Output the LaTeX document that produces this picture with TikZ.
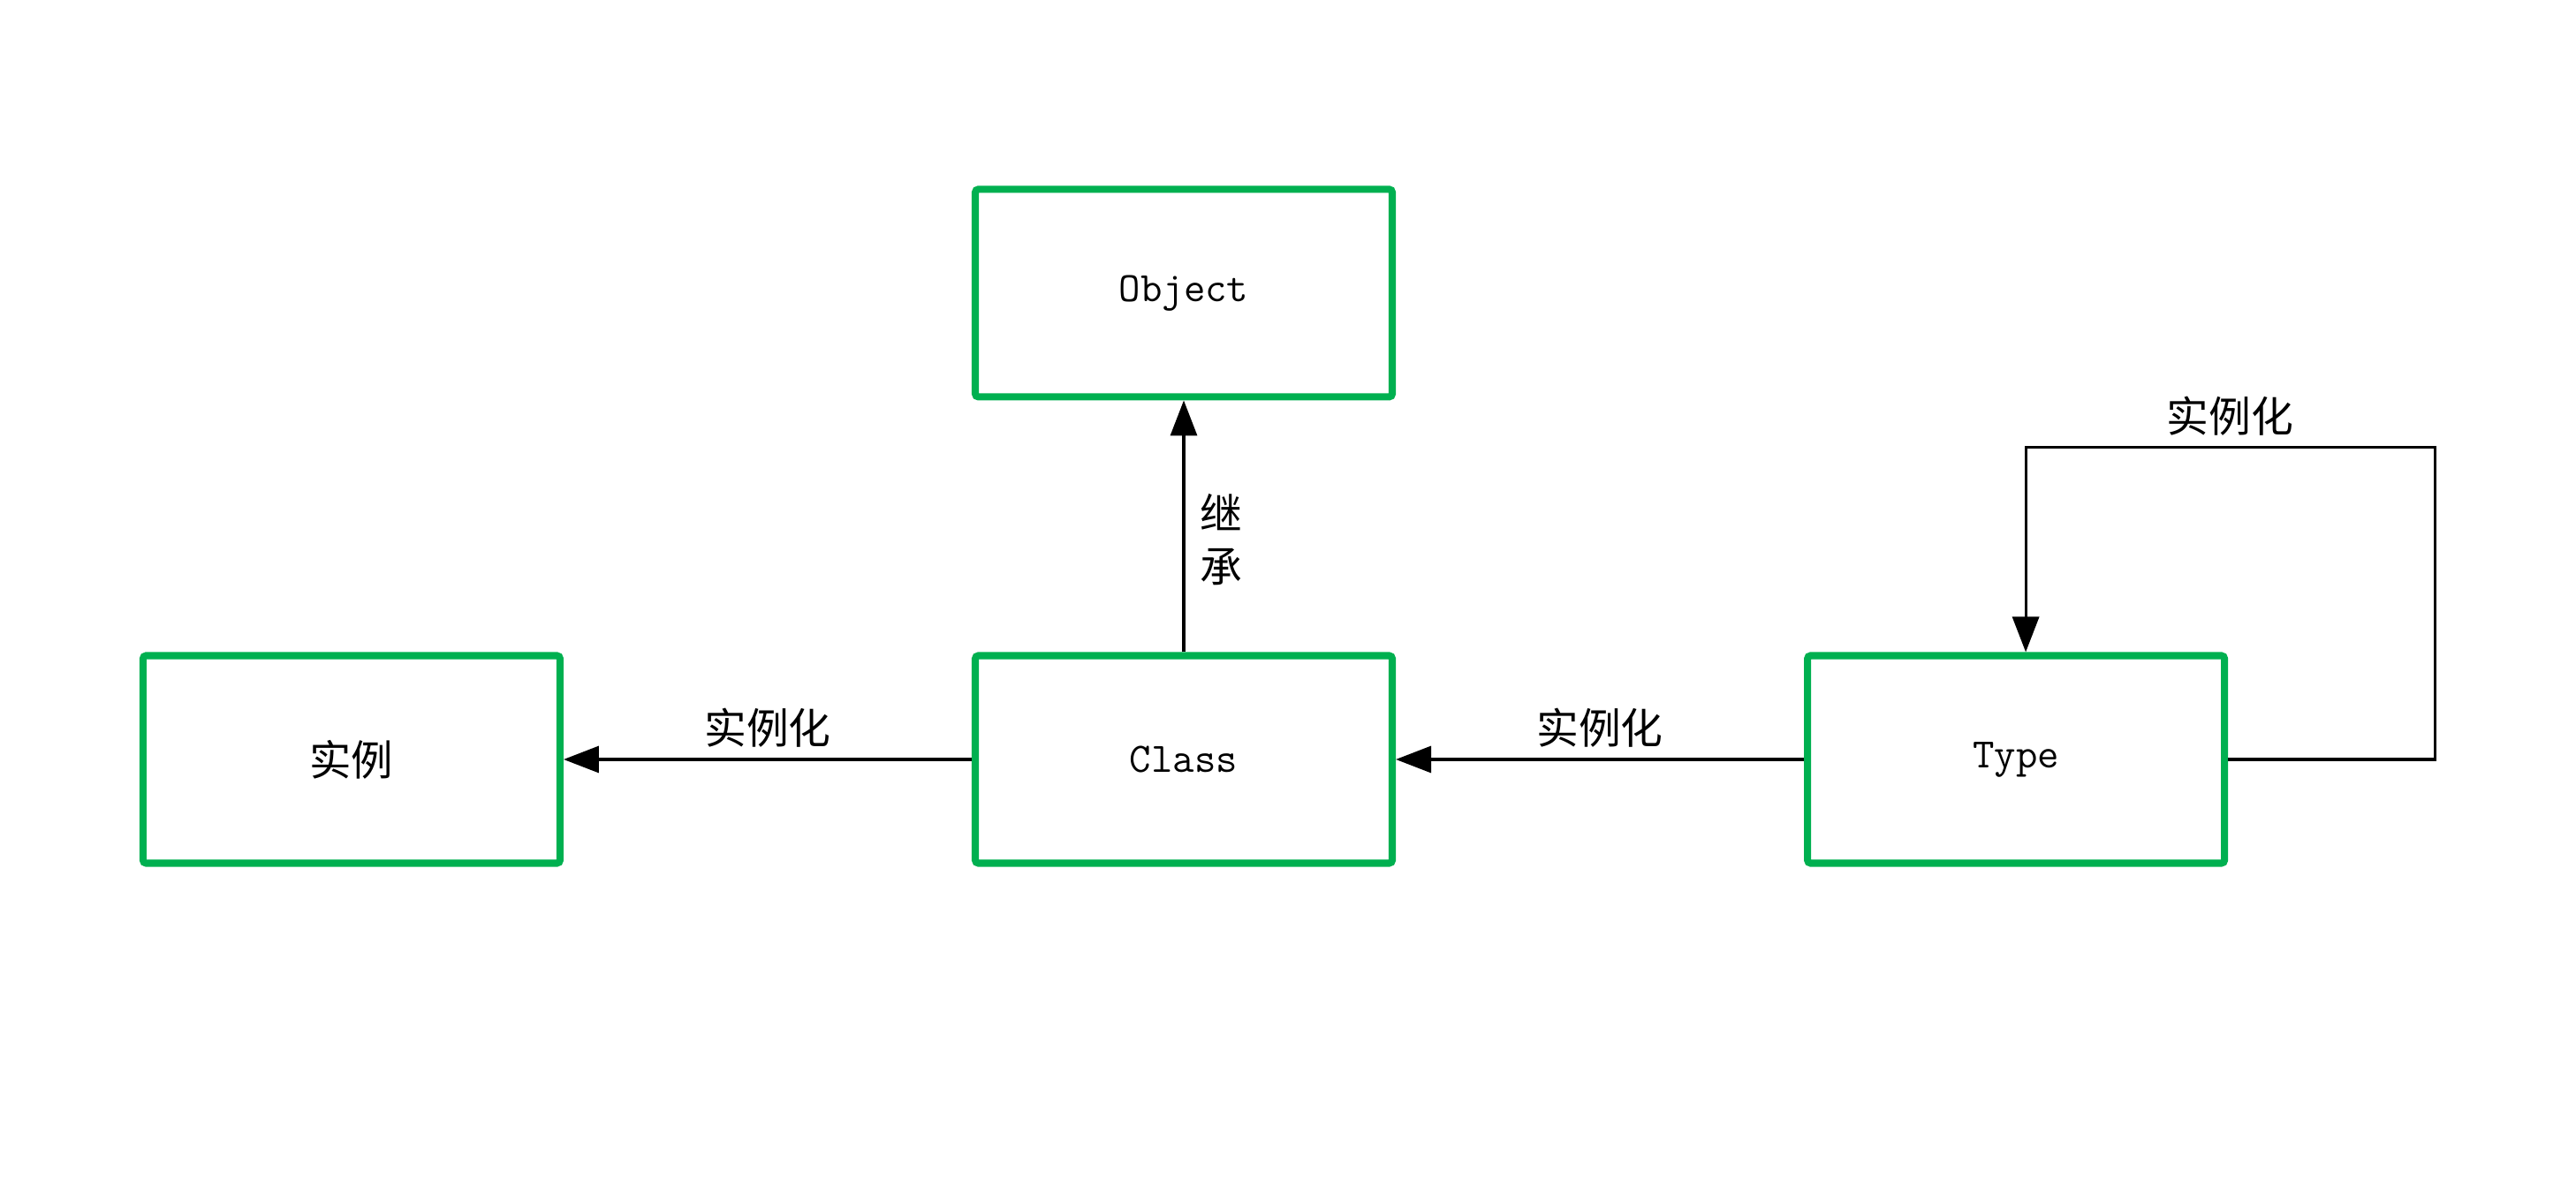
\documentclass[tikz,border=0pt]{standalone}
\usepackage{fontspec}
\newfontfamily\cjk{Noto Sans CJK SC}
\usepackage{xcolor}
\usepackage{tikz}
\usetikzlibrary{arrows.meta, positioning, calc}
\definecolor{boxgreen}{RGB}{0,176,80}

\begin{document}
\begin{tikzpicture}[
    >={Triangle[length=4mm, width=3mm]},
    box/.style={draw=boxgreen, line width=2.3pt, rounded corners=1pt, minimum width=4.72cm, minimum height=2.35cm, font=\fontsize{13.5}{16}\selectfont\ttfamily},
    arr/.style={->, line width=0.9pt},
    lbl/.style={font=\fontsize{13.6}{17}\selectfont\cjk},
]
    \useasboundingbox (0,0) rectangle (29.16,13.34);

    \node[box] (class) at (13.40,4.74) {Class};
    \node[box, left=4.62cm of class] (inst) {\cjk 实例};
    \node[box, right=4.62cm of class] (type) {Type};
    \node[box, above=2.85cm of class] (object) {Object};

    \coordinate (loopin) at ($(type.north)+(0.11,0)$);

    \draw[arr] (class.north) -- (object.south) node[lbl, midway, right, align=center, xshift=0.05cm, yshift=-0.15cm] {继\\承};
    \draw[arr] (class.west) -- (inst.east) node[lbl, midway, above] {实例化};
    \draw[arr] (type.west) -- (class.east) node[lbl, midway, above] {实例化};
    \draw[arr] (type.east) -- ++(2.34,0) |- ($(loopin)+(0,2.32)$) node[lbl, pos=0.75, above] {实例化} -- (loopin);
\end{tikzpicture}
\end{document}
